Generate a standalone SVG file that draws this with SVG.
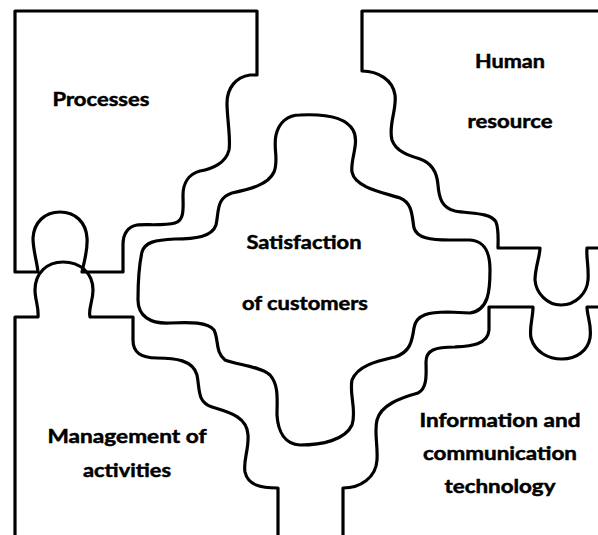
<svg xmlns="http://www.w3.org/2000/svg" width="598" height="535" viewBox="0 0 598 535">
<style>
.p{fill:none;stroke:#000;stroke-width:3.2;stroke-linejoin:round;stroke-linecap:butt}
.t{font-family:Lato,"Liberation Sans",sans-serif;font-weight:bold;font-size:19.5px;fill:#000;stroke:#000;stroke-width:0.5;text-anchor:middle}
</style>
<rect width="598" height="535" fill="#fff"/>
<g id="processes">
<path class="p" d="M15,11 H257 V75 H250 C236,77 227,88 227,103 C227,118 231,140 229,150 C226,163 212,169 200,171 C189,174 183,183 183,195 C183,207 185,220 175,223 C165,226 145,224 137,225 C127,227 123,235 123,245 V272 H82 C84,262 88,250 87,238 C86,222 75,212 60,212 C45,212 34,222 33,238 C33,250 37,262 38,272 H15 Z"/>
<text class="t" x="101" y="106" textLength="97" lengthAdjust="spacingAndGlyphs">Processes</text>
</g>
<g id="human-resource">
<path class="p" d="M598,11 H362 V71 C378,71 393,80 395,95 C397,110 388,125 392,140 C396,152 410,156 420,159 C432,163 437,172 438,185 C439,198 442,208 455,211 C470,214 490,212 496,222 C499,230 498,240 498,248 H540 C540,256 535,268 535,280 C536,293 547,305 561,305 C576,305 587,293 588,280 C589,267 586,257 587,248 H598"/>
<text class="t" x="510" y="68" textLength="70" lengthAdjust="spacingAndGlyphs">Human</text>
<text class="t" x="510" y="128" textLength="85" lengthAdjust="spacingAndGlyphs">resource</text>
</g>
<g id="management">
<path class="p" d="M15,535 V317 H38 C39,307 35,300 35,290 C35,273 47,262 63,262 C80,262 93,273 93,290 C93,302 88,308 90,317 H133 V340 C133,352 140,358 157,358 C175,358 193,360 197,375 C200,390 197,402 212,407 C228,412 247,416 248,435 C249,450 243,460 245,472 C248,485 260,488 278,488 V535"/>
<text class="t" x="127" y="443" textLength="159" lengthAdjust="spacingAndGlyphs">Management of</text>
<text class="t" x="127" y="477" textLength="88" lengthAdjust="spacingAndGlyphs">activities</text>
</g>
<g id="ict">
<path class="p" d="M343,535 V488 C360,488 376,478 377,460 C378,445 374,432 377,420 C381,405 400,398 418,393 C428,388 426,372 426,362 C426,350 435,347 455,347 C470,346 488,345 489,330 V307 H533 C533,318 529,328 531,338 C535,352 548,359 562,359 C577,359 588,350 590,338 C592,325 587,316 587,307 H598"/>
<text class="t" x="500" y="427" textLength="161" lengthAdjust="spacingAndGlyphs">Information and</text>
<text class="t" x="500" y="460" textLength="154" lengthAdjust="spacingAndGlyphs">communication</text>
<text class="t" x="500" y="493" textLength="111" lengthAdjust="spacingAndGlyphs">technology</text>
</g>
<g id="satisfaction">
<path class="p" d="M300,115 C320,114 345,116 353,130 C360,142 350,160 352,172 C355,188 385,193 400,198 C413,203 412,218 414,228 C417,238 430,240 450,240 L470,240 C485,241 490,252 490,270 C490,290 489,310 470,313 L448,312 C430,312 416,314 414,328 C412,342 410,352 395,357 C378,361 358,365 352,380 C349,395 357,410 352,425 C345,440 322,445 300,445 C285,444 278,432 277,415 C277,400 279,385 270,375 C260,366 237,365 225,360 C215,352 219,340 214,330 C208,322 190,322 170,323 C150,324 138,316 138,300 C138,285 139,265 142,252 C145,242 155,240 175,239 C195,239 212,237 216,225 C219,212 216,198 232,193 C250,189 268,185 274,172 C279,160 273,148 276,135 C279,122 288,115 300,115 Z"/>
<text class="t" x="304" y="249" textLength="115" lengthAdjust="spacingAndGlyphs">Satisfaction</text>
<text class="t" x="305" y="310" textLength="126" lengthAdjust="spacingAndGlyphs">of customers</text>
</g>
<g id="connectors"></g>
</svg>
